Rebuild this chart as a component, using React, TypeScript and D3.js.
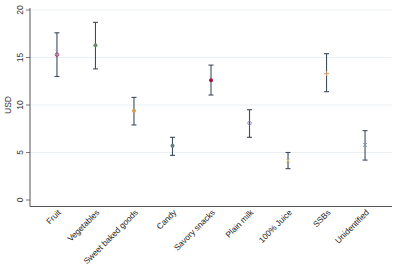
import React from "react";
import * as d3 from "d3";

const categories = ["Fruit", "Vegetables", "Sweet baked goods", "Candy", "Savory snacks", "Plain milk", "100% Juice", "SSBs", "Unidentified"];
const means = [15.3, 16.3, 9.4, 5.7, 12.6, 8.1, 4.15, 13.3, 5.8];
const lowers = [13.0, 13.8, 7.9, 4.7, 11.05, 6.6, 3.3, 11.4, 4.2];
const uppers = [17.6, 18.7, 10.8, 6.6, 14.2, 9.5, 5.0, 15.4, 7.3];
const markerColors = ["#b0306a", "#6b8c6b", "#d0a050", "#5f7f80", "#a8123c", "#8a86c0", "#d8c870", "#d49a60", "#7890b0"];
const markerTypes = ["oh", "o", "o", "o", "o", "oh", "x", "+", "x"];
const yTicks = [0, 5, 10, 15, 20];

export default function App() {
  const W = 400, H = 265;
  const left = 30, right = 392, top = 8, bottom = 206.5;
  const x = d3.scalePoint<string>().domain(categories).range([left, right]).padding(0.7);
  const y = d3.scaleLinear().domain([0, 20]).range([200, 10]);
  const err = "#3d4b5e";
  return (
    <svg width={W} height={H} style={{ position: "absolute", left: 0, top: 0, background: "#fff" }} fontFamily="Liberation Sans, Arial, sans-serif">
      {yTicks.map((t) => (
        <g key={t}>
          {t > 0 && <line x1={left} x2={right} y1={y(t)} y2={y(t)} stroke="#eaeff3" strokeWidth={1} />}
          <line x1={left - 4} x2={left} y1={y(t)} y2={y(t)} stroke="#555" strokeWidth={0.8} />
          <text transform={`translate(${left - 7},${y(t)}) rotate(-90)`} textAnchor="middle" fontSize={8.5} fill="#333">{t}</text>
        </g>
      ))}
      <line x1={left} x2={left} y1={top} y2={bottom} stroke="#555" strokeWidth={1} />
      <line x1={left} x2={right} y1={bottom} y2={bottom} stroke="#555" strokeWidth={1} />
      <text transform={`translate(11,${y(10)}) rotate(-90)`} textAnchor="middle" fontSize={8.5} fill="#333">USD</text>
      {categories.map((c, i) => {
        const cx = x(c)!;
        const col = markerColors[i];
        const m = markerTypes[i];
        const cy = y(means[i]);
        return (
          <g key={c}>
            <line x1={cx} x2={cx} y1={y(lowers[i])} y2={y(uppers[i])} stroke={err} strokeWidth={1.1} />
            <line x1={cx - 2.5} x2={cx + 2.5} y1={y(lowers[i])} y2={y(lowers[i])} stroke={err} strokeWidth={1.1} />
            <line x1={cx - 2.5} x2={cx + 2.5} y1={y(uppers[i])} y2={y(uppers[i])} stroke={err} strokeWidth={1.1} />
            {m === "o" && <circle cx={cx} cy={cy} r={2} fill={col} />}
            {m === "oh" && <circle cx={cx} cy={cy} r={1.8} fill="none" stroke={col} strokeWidth={0.9} />}
            {m === "x" && (
              <path d={`M${cx - 2},${cy - 2}L${cx + 2},${cy + 2}M${cx - 2},${cy + 2}L${cx + 2},${cy - 2}`} stroke={col} strokeWidth={0.9} />
            )}
            {m === "+" && (
              <path d={`M${cx - 2.5},${cy}L${cx + 2.5},${cy}M${cx},${cy - 2.5}L${cx},${cy + 2.5}`} stroke={col} strokeWidth={0.9} />
            )}
            <text transform={`translate(${cx + 3},${bottom + 5}) rotate(-45)`} textAnchor="end" dominantBaseline="middle" fontSize={8.3} fill="#222">{c}</text>
          </g>
        );
      })}
    </svg>
  );
}
